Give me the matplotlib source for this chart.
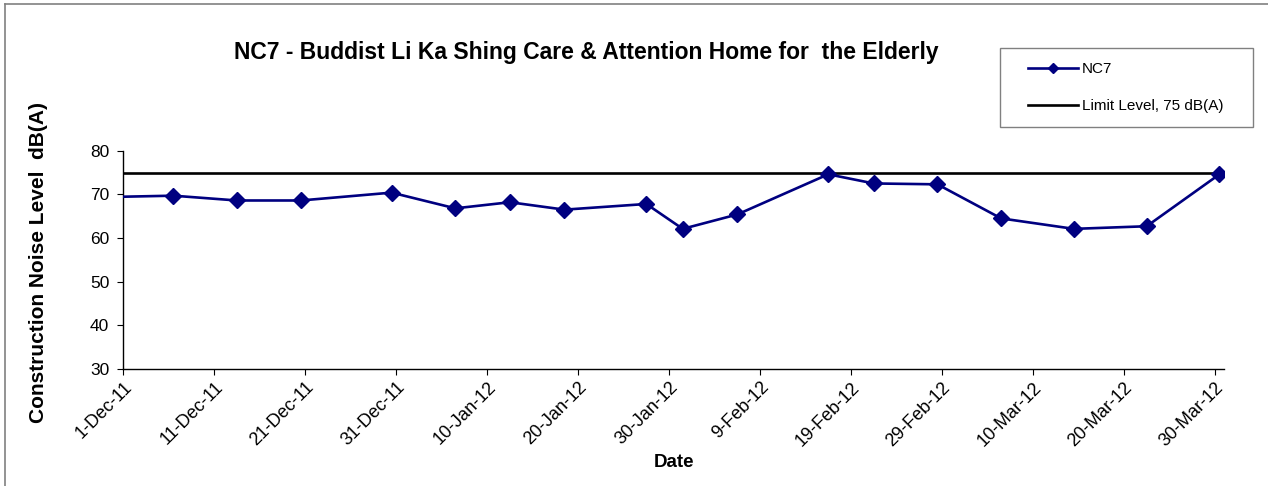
import matplotlib
matplotlib.use('Agg')
import matplotlib.pyplot as plt
from matplotlib.lines import Line2D
from matplotlib.patches import Rectangle
import pandas as pd

plt.rcParams['font.family'] = ['Liberation Sans', 'DejaVu Sans']

# Measurement dates and noise levels, dB(A)
dates = ['2011-11-29', '2011-12-06', '2011-12-13', '2011-12-20', '2011-12-30',
         '2012-01-06', '2012-01-12', '2012-01-18', '2012-01-27', '2012-01-31',
         '2012-02-06', '2012-02-16', '2012-02-21', '2012-02-28', '2012-03-06',
         '2012-03-14', '2012-03-22', '2012-03-30']
nc7 = [69.4, 69.7, 68.6, 68.6, 70.4,
       66.8, 68.2, 66.5, 67.8, 62.1,
       65.4, 74.6, 72.5, 72.3, 64.5,
       62.1, 62.7, 74.6]
limit_level = 75
title = 'NC7 - Buddist Li Ka Shing Care & Attention Home for  the Elderly'
series_names = ['NC7', 'Limit Level, 75 dB(A)']

x = pd.to_datetime(dates) + pd.Timedelta(hours=12)

fig = plt.figure(figsize=(12.68, 4.86), dpi=100)
ax = fig.add_axes([0.0972, 0.2407, 0.8681, 0.4492])

navy = '#000080'
ax.plot(x, [limit_level] * len(x), color='black', lw=1.9, zorder=2)
ax.plot(x, nc7, color=navy, lw=1.9, marker='D', markersize=8,
        markerfacecolor=navy, markeredgecolor=navy, zorder=3)

ax.set_xlim(pd.Timestamp('2011-12-01'), pd.Timestamp('2012-03-31'))
ax.set_ylim(30, 80)
ax.set_yticks([30, 40, 50, 60, 70, 80])
ticks = pd.date_range('2011-12-01', '2012-03-30', freq='10D')
ax.set_xticks(ticks)
ax.set_xticklabels([f'{d.day}-{d.strftime("%b-%y")}' for d in ticks],
                   rotation=45, ha='right', rotation_mode='anchor')

for s in ['top', 'right']:
    ax.spines[s].set_visible(False)
for s in ['left', 'bottom']:
    ax.spines[s].set_linewidth(1.0)
ax.tick_params(axis='both', direction='out', length=4, width=0.8)
ax.tick_params(axis='x', labelsize=13, pad=3)
ax.tick_params(axis='y', labelsize=12.5, pad=6)

ax.set_xlabel('Date', fontsize=13.5, fontweight='bold', labelpad=3)
fig.text(0.030, 0.46, 'Construction Noise Level  dB(A)', rotation=90,
         ha='center', va='center', fontsize=15, fontweight='bold')
fig.text(0.462, 0.893, title, ha='center', va='center',
         fontsize=16.5, fontweight='bold')

# legend box drawn separately so the inner padding can match
fig.add_artist(Rectangle((1000 / 1268, 1 - 127 / 486), 253 / 1268, 79 / 486,
                         transform=fig.transFigure, fill=False,
                         edgecolor='#808080', lw=1.0))
handles = [Line2D([], [], color=navy, lw=1.9, marker='D', markersize=5),
           Line2D([], [], color='black', lw=1.9)]
fig.legend(handles, series_names, loc='center left',
           bbox_to_anchor=(1028 / 1268, 0.820), fontsize=11, frameon=False,
           handlelength=3.3, handletextpad=0.25, labelspacing=1.5,
           borderpad=0, borderaxespad=0)

# outer chart border (only left and top visible in the crop)
fig.add_artist(Line2D([0.004, 0.004], [0, 0.991], color='#808080', lw=1.2,
                      transform=fig.transFigure))
fig.add_artist(Line2D([0.004, 1], [0.991, 0.991], color='#808080', lw=1.2,
                      transform=fig.transFigure))

fig.savefig('out.png', dpi=100)
